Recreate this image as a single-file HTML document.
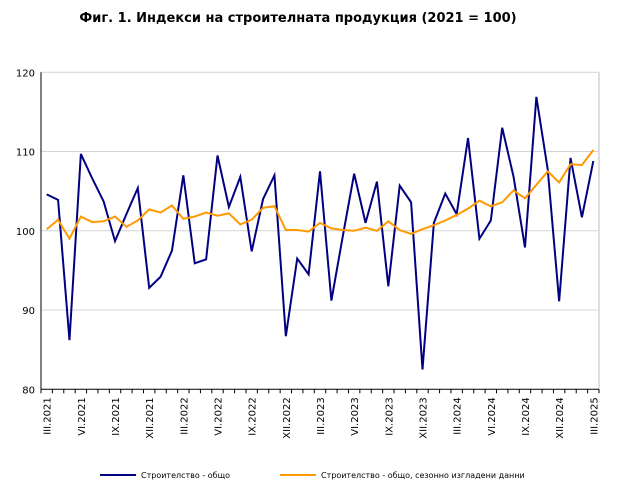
<!DOCTYPE html>
<html><head><meta charset="utf-8"><style>
body{margin:0;background:#fff;font-family:"Liberation Sans",sans-serif;}
svg text{font-family:"DejaVu Sans","Liberation Sans",sans-serif;}
</style></head><body>
<svg id="c" width="618" height="490" xmlns="http://www.w3.org/2000/svg">
<text x="298" y="22" text-anchor="middle" font-size="13" font-weight="bold">Фиг. 1. Индекси на строителната продукция (2021 = 100)</text>
<g id="grid"></g><g id="axes"></g><g id="series"></g>
<g>
<line x1="100" y1="475" x2="136" y2="475" stroke="#000080" stroke-width="2"/>
<text x="141" y="478" font-size="8">Строителство - общо</text>
<line x1="280" y1="475" x2="316" y2="475" stroke="#ff9900" stroke-width="2"/>
<text x="321" y="478" font-size="8">Строителство - общо, сезонно изгладени данни</text>
</g>
</svg>
<script>
const years=["2021","2022","2023","2024","2025"];
const tickMonths=["III","VI","IX","XII"];
const yTicks=[80,90,100,110,120];
const total=[104.6,103.9,86.2,109.7,106.6,103.7,98.7,102.1,105.4,92.8,94.2,97.5,107.0,95.9,96.4,109.5,103.0,106.8,97.4,104.0,107.0,86.7,96.5,94.5,107.5,91.2,99.3,107.2,101.0,106.2,93.0,105.7,103.6,82.5,101.0,104.7,102.1,111.7,99.0,101.3,113.0,106.8,97.9,116.9,107.7,91.1,109.2,101.7,108.8];
const seasonal=[100.2,101.4,99.0,101.8,101.1,101.2,101.8,100.5,101.3,102.7,102.3,103.2,101.5,101.8,102.3,101.9,102.2,100.8,101.4,102.9,103.1,100.1,100.1,99.9,101.0,100.3,100.1,100.0,100.4,100.0,101.2,100.1,99.6,100.2,100.7,101.3,102.0,102.8,103.8,103.1,103.6,105.1,104.1,105.8,107.5,106.1,108.4,108.3,110.2];
const NS="http://www.w3.org/2000/svg";
const L=41,R=599,T=72.3,B=389.3,n=total.length,step=(R-L)/n;
const xs=i=>L+step*(i+0.5);
const ys=v=>B-(v-80)/40*(B-T);
function mk(tag,at,parent){const e=document.createElementNS(NS,tag);for(const k in at)e.setAttribute(k,at[k]);parent.appendChild(e);return e;}
const grid=document.getElementById('grid'),axes=document.getElementById('axes'),ser=document.getElementById('series');
yTicks.forEach(v=>{
 if(v>80){const g=mk('line',{x1:L,x2:R,y1:ys(v),y2:ys(v),stroke:'#d4d4d4','stroke-width':1},grid);
 
 }
 const t=mk('text',{x:L-6,y:ys(v)+4,'text-anchor':'end','font-size':10},axes);t.textContent=v;
 
 
});
mk('line',{x1:R,x2:R,y1:T,y2:B,stroke:'#d4d4d4','stroke-width':1.5},grid);
mk('line',{x1:L,x2:L,y1:T,y2:B,stroke:'#000','stroke-width':1},axes);
mk('line',{x1:L,x2:R,y1:B,y2:B,stroke:'#000','stroke-width':1},axes);
for(let i=0;i<=n;i++){mk('line',{x1:L+step*i,x2:L+step*i,y1:B,y2:B+4,stroke:'#000'},axes);}
for(let i=0;i<n;i+=3){
 const k=i/3;const lab=tickMonths[k%4]+"."+years[Math.floor(k/4)];
 const x=xs(i)+4,y=B+8;
 const t=mk('text',{x:x,y:y,'text-anchor':'end','font-size':10,transform:`rotate(-90 ${x} ${y})`},axes);
 t.textContent=lab;
 
 
}
function line(arr,col,name){
 const p=mk('polyline',{points:arr.map((v,i)=>xs(i)+','+ys(v)).join(' '),fill:'none',stroke:col,'stroke-width':2,'stroke-linejoin':'miter'},ser);
 
 
}
line(total,'#000080','series-total');
line(seasonal,'#ff9900','series-seasonal');
</script>
</body></html>
